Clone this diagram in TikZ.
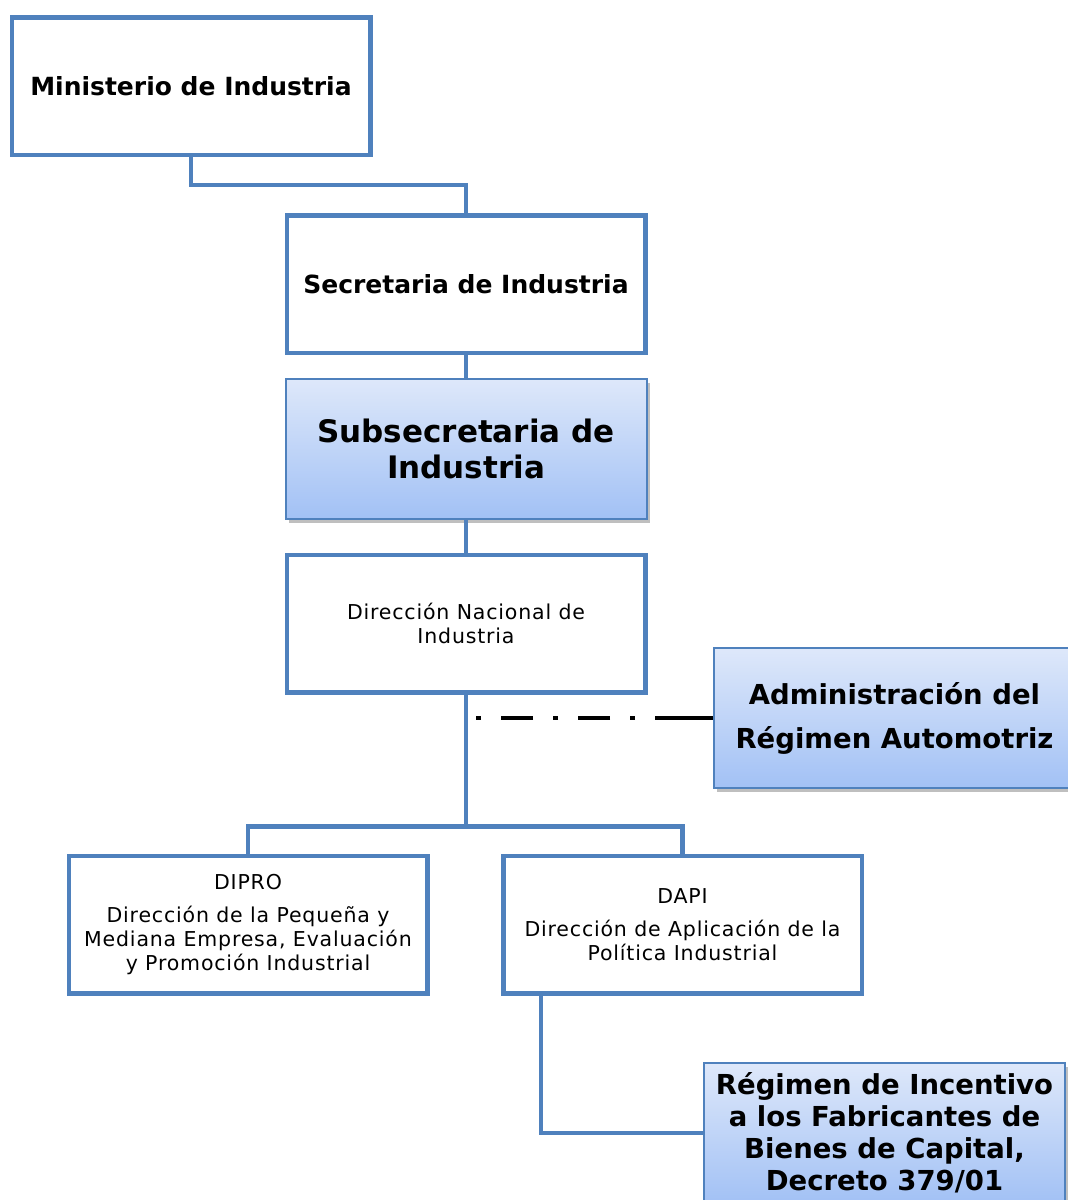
\documentclass[tikz,border=0pt]{standalone}
\usepackage{fontspec}
\setmainfont{DejaVu Sans}
\newfontfamily\smallfont[LetterSpace=4]{DejaVu Sans}
\usetikzlibrary{shadows}

\definecolor{boxblue}{RGB}{79,129,189}
\definecolor{shadetop}{RGB}{222,232,250}
\definecolor{shadebottom}{RGB}{162,193,245}

\tikzset{
	whitebox/.style={draw=boxblue, line width=4.5pt, fill=white, minimum width=358.5pt, minimum height=137.5pt, align=center, inner sep=0pt},
	bluebox/.style={draw=boxblue, line width=2pt, top color=shadetop, bottom color=shadebottom, minimum width=361pt, minimum height=140pt, align=center, inner sep=0pt, drop shadow={shadow xshift=3pt, shadow yshift=-4pt, fill=black!50, opacity=0.5}},
	bigtext/.style={font=\bfseries\fontsize{25}{30}\selectfont},
	smalltext/.style={font=\smallfont\fontsize{20.5}{24}\selectfont},
	link/.style={draw=boxblue, line width=4.5pt},
	dashdot/.style={draw=black, line width=4pt, dash pattern=on 58pt off 20pt on 5pt off 20pt on 32pt off 20pt on 5pt off 20pt on 32pt off 20pt on 5pt off 20pt}
}

\begin{document}
\begin{tikzpicture}[x=1pt, y=-1pt]
	\useasboundingbox (0,0) rectangle (1068,1200);

	% Draw boxes
	\node[whitebox, bigtext] (min) at (191,86) {Ministerio de Industria};
	\node[whitebox, bigtext] (sec) at (466,284) {Secretaria de Industria};
	\node[bluebox, font=\bfseries\fontsize{31}{36}\selectfont] (subsec) at (466,448.5) {Subsecretaria de\\Industria};
	\node[whitebox, smalltext] (dnac) at (466,623.5) {Dirección Nacional de\\Industria};
	\node[bluebox, font=\bfseries\fontsize{27.5}{44}\selectfont] (adm) at (894.5,718) {Administración del\\Régimen Automotriz};
	\node[whitebox, smalltext] (dipro) at (248,924.5) {DIPRO\\[9pt]Dirección de la Pequeña y\\Mediana Empresa, Evaluación\\y Promoción Industrial};
	\node[whitebox, smalltext] (dapi) at (682.5,924.5) {DAPI\\[9pt]Dirección de Aplicación de la\\Política Industrial};
	\node[bluebox, font=\bfseries\fontsize{27.5}{32}\selectfont] (reg) at (884.5,1133) {Régimen de Incentivo\\a los Fabricantes de\\Bienes de Capital,\\Decreto 379/01};

	% Draw connectors
	\draw[link] (min.south) -- ++(0,28) -| (sec.north);
	\draw[link] (sec.south) -- (subsec.north);
	\draw[link] (subsec.south) -- (dnac.north);
	\draw[link] (dnac.south) -- ++(0,132) coordinate (split);
	\draw[link] (dipro.north) |- (split) -| (dapi.north);
	\draw[link] ([xshift=40pt]dapi.south west) |- (reg.west);

	% Dash-dot link
	\coordinate (dashend) at ([xshift=-240pt]adm.west);
	\draw[dashdot] (adm.west) -- (dashend);
\end{tikzpicture}
\end{document}
